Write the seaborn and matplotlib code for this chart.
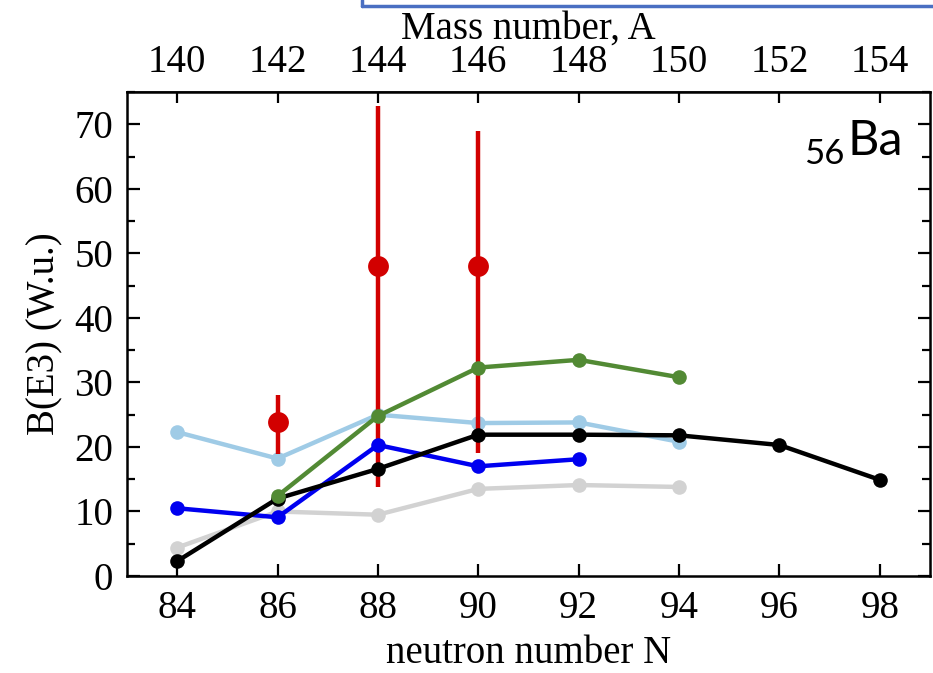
import pandas as pd
import seaborn as sns
import matplotlib.pyplot as plt
from matplotlib.lines import Line2D
from matplotlib.ticker import MultipleLocator

sns.set_theme(style="ticks")
plt.rcParams['font.family'] = ['Liberation Serif', 'DejaVu Serif']
plt.rcParams.update({'text.color': 'black', 'axes.labelcolor': 'black',
                     'xtick.color': 'black', 'ytick.color': 'black'})

# B(E3) values, per neutron number N
N_BLACK = [84, 86, 88, 90, 92, 94, 96, 98]
B_BLACK = [2.3, 12.0, 16.6, 21.9, 21.9, 21.8, 20.3, 14.9]

N_LIGHTBLUE = [84, 86, 88, 90, 92, 94]
B_LIGHTBLUE = [22.3, 18.2, 25.0, 23.7, 23.8, 20.8]

N_GREEN = [86, 88, 90, 92, 94]
B_GREEN = [12.4, 24.8, 32.3, 33.5, 30.8]

N_BLUE = [84, 86, 88, 90, 92]
B_BLUE = [10.5, 9.1, 20.3, 17.0, 18.1]

N_GRAY = [84, 86, 88, 90, 92, 94]
B_GRAY = [4.4, 10.0, 9.5, 13.5, 14.1, 13.8]

# experimental points with asymmetric errors
N_EXP = [86, 88, 90]
B_EXP = [23.8, 48.1, 48.0]
ERR_LO = [4.9, 34.3, 29.0]
ERR_HI = [4.3, 24.8, 21.0]

N_TICKS = [84, 86, 88, 90, 92, 94, 96, 98]
A_TICKS = [140, 142, 144, 146, 148, 150, 152, 154]
Z = 56

series = [
    ('gray', N_GRAY, B_GRAY, '#d2d2d2', 2),
    ('lightblue', N_LIGHTBLUE, B_LIGHTBLUE, '#9fcbe6', 3),
    ('blue', N_BLUE, B_BLUE, '#0000f0', 5),
    ('black', N_BLACK, B_BLACK, '#000000', 6),
    ('green', N_GREEN, B_GREEN, '#528a34', 7),
]

fig = plt.figure(figsize=(9.33, 6.73), dpi=100)
ax = fig.add_axes([0.1361, 0.1441, 0.8607, 0.7192])

for name, n, b, color, z in series:
    df = pd.DataFrame({'N': n, 'B': b})
    sns.lineplot(data=df, x='N', y='B', ax=ax, color=color, linewidth=3.2,
                 marker='o', markersize=10, markeredgewidth=0, zorder=z)
for line in ax.lines:
    line.set_linewidth(3.2)
    line.set_markersize(10.5)

ax.errorbar(N_EXP, B_EXP, yerr=[ERR_LO, ERR_HI], fmt='o', color='#d20000',
            ms=15, mew=0, elinewidth=3.2, capsize=0, zorder=4)

ax.set_xlim(83, 99)
ax.set_ylim(0, 75)
ax.set_xticks(N_TICKS)
ax.yaxis.set_major_locator(MultipleLocator(10))
ax.yaxis.set_minor_locator(MultipleLocator(5))
ax.tick_params(which='both', direction='in', right=True, width=1.6,
               labelsize=28, colors='black', pad=10)
ax.tick_params(which='major', length=9)
ax.tick_params(which='minor', length=6)
ax.tick_params(axis='x', top=False)
for s in ax.spines.values():
    s.set_linewidth(1.8)
    s.set_color('black')

ax.set_xlabel('neutron number N', fontsize=28, labelpad=6)
ax.set_ylabel('B(E3) (W.u.)', fontsize=28, labelpad=8)

top = ax.secondary_xaxis('top', functions=(lambda n: n + Z, lambda a: a - Z))
top.set_xticks(A_TICKS)
top.tick_params(direction='in', length=8, width=1.6, labelsize=28, pad=8,
                colors='black')
top.set_xlabel('Mass number, A', fontsize=28, labelpad=4)

sans = ['Lato', 'DejaVu Sans']
ax.text(0.966, 0.87, 'Ba', transform=ax.transAxes, ha='right', va='baseline',
        fontsize=35, family=sans)
ax.text(0.893, 0.851, '56', transform=ax.transAxes, ha='right', va='baseline',
        fontsize=25, family=sans)

# blue frame edge visible at the top of the crop
W, H = 933, 673
blue = '#4a6fc2'
fig.add_artist(Line2D([362 / W, 1], [1 - 6 / H, 1 - 6 / H], color=blue, lw=2.5))
fig.add_artist(Line2D([362 / W, 362 / W], [1 - 6 / H, 1], color=blue, lw=2.5))

fig.savefig('out.png', dpi=100)
